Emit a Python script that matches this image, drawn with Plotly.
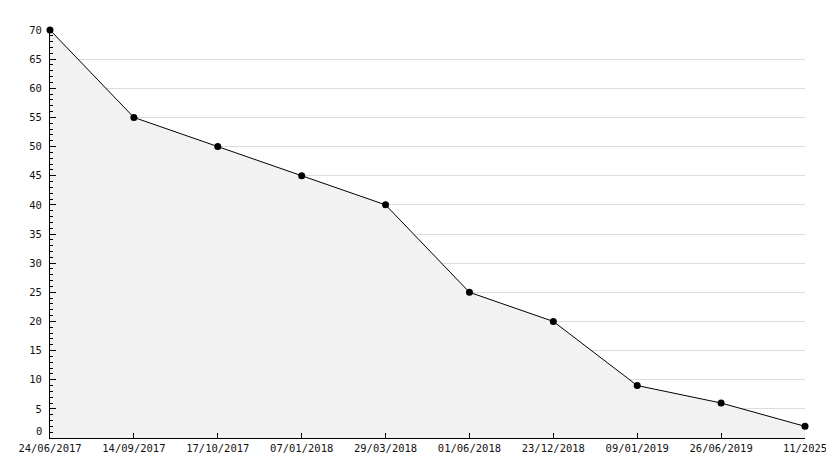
import plotly.graph_objects as go

labels = ["24/06/2017", "14/09/2017", "17/10/2017", "07/01/2018", "29/03/2018",
          "01/06/2018", "23/12/2018", "09/01/2019", "26/06/2019", "11/2025"]
values = [70, 55, 50, 45, 40, 25, 20, 9, 6, 2]
xpos = list(range(len(labels)))
ytickvals = list(range(5, 75, 5))

fig = go.Figure()
fig.add_trace(go.Scatter(
    x=xpos, y=values, mode="lines+markers",
    line=dict(color="black", width=1),
    fill="tozeroy", fillcolor="#f2f2f2",
    marker=dict(color="black", size=7, symbol="circle"),
    hoverinfo="skip", showlegend=False, cliponaxis=False,
))

font = dict(family="DejaVu Sans Mono", size=10.5, color="#111111")
# page body has an 8px margin, so the figure is offset by 8px
fig.update_layout(
    width=826, height=460,
    margin=dict(l=42, r=29, t=22, b=30, autoexpand=False),
    paper_bgcolor="white", plot_bgcolor="white",
    font=font,
    xaxis=dict(
        range=[0, len(labels) - 1], tickvals=xpos, ticktext=labels,
        showgrid=False, zeroline=False, automargin=False,
        showline=True, linecolor="black", linewidth=1,
        ticks="inside", ticklen=5, tickcolor="black",
        tickfont=font, fixedrange=True, ticklabelstandoff=0,
    ),
    yaxis=dict(
        range=[0, 70], tickvals=ytickvals, automargin=False,
        showgrid=True, gridcolor="#dcdcdc", gridwidth=1,
        zeroline=False,
        showline=True, linecolor="black", linewidth=1,
        ticks="inside", ticklen=6, tickcolor="black",
        minor=dict(tickvals=list(range(0, 71)), ticks="inside", ticklen=3,
                   tickcolor="black", showgrid=False),
        tickfont=font, fixedrange=True, ticklabelstandoff=5,
    ),
    annotations=[dict(
        text="0", x=0, xref="paper", y=0, yref="y",
        xanchor="right", yanchor="bottom", xshift=-6, yshift=-1,
        showarrow=False, font=font,
    )],
)

fig.write_html("out.html")
